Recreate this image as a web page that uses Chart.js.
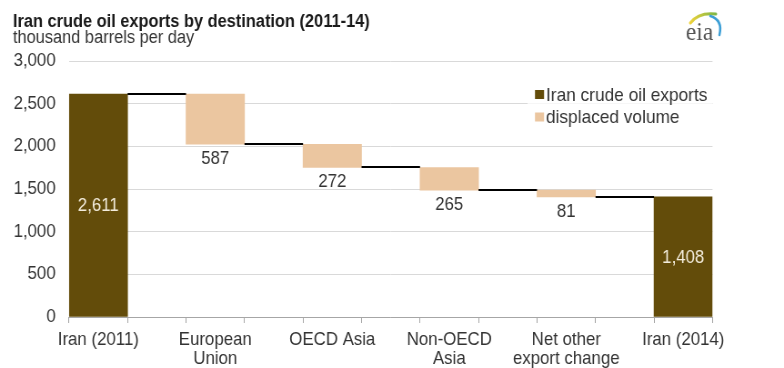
<!DOCTYPE html>
<html><head><meta charset="utf-8">
<script src="https://cdn.jsdelivr.net/npm/chart.js@4.4.1/dist/chart.umd.min.js"></script>
<style>
html,body{margin:0;padding:0;background:#fff;overflow:hidden;}
#wrap{position:absolute;left:0;top:0;width:862px;height:368px;transform:scaleX(0.90951);transform-origin:0 0;}
canvas{display:block;}
</style></head><body>
<div id="wrap"><canvas id="c" width="862" height="368" style="width:862px;height:368px"></canvas></div>
<script>
// ---- data ----
const categories = [['Iran (2011)'], ['European', 'Union'], ['OECD Asia'], ['Non-OECD', 'Asia'], ['Net other', 'export change'], ['Iran (2014)']];
const startValue = 2611;
const endValue = 1408;
const displaced = [587, 272, 265, 81];
const yTicks = [0, 500, 1000, 1500, 2000, 2500, 3000];
const seriesNames = ['Iran crude oil exports', 'displaced volume'];
const titleText = 'Iran crude oil exports by destination (2011-14)';
const subtitleText = 'thousand barrels per day';

// ---- build waterfall tables ----
const labels = [];
categories.forEach((c, i) => { labels.push(c); if (i < categories.length - 1) labels.push(''); });
const iranData = labels.map(() => null);
iranData[0] = startValue;
iranData[labels.length - 1] = endValue;
const dispData = labels.map(() => null);
const levels = [startValue];
let level = startValue;
displaced.forEach((d, j) => {
  const bottom = level - d;
  dispData[2 * (j + 1)] = [bottom, level];
  level = bottom;
  levels.push(level);
});

const FONT = "'Liberation Sans', Arial, sans-serif";
Chart.defaults.font.family = FONT;
const fmt = v => v.toLocaleString('en-US');

const waterfallPlugin = {
  id: 'waterfall',
  afterDatasetsDraw(chart) {
    const ctx = chart.ctx;
    const y = chart.scales.y;
    const m0 = chart.getDatasetMeta(0), m1 = chart.getDatasetMeta(1);
    const barAt = i => (iranData[i] !== null ? m0.data[i] : m1.data[i]);
    ctx.save();
    // connectors
    ctx.strokeStyle = '#000';
    ctx.lineWidth = 2;
    for (let k = 0; k < levels.length; k++) {
      const a = barAt(2 * k), b = barAt(2 * k + 2);
      const py = Math.round(y.getPixelForValue(levels[k])) ;
      ctx.beginPath();
      ctx.moveTo(a.x + a.width / 2, py);
      ctx.lineTo(b.x - b.width / 2, py);
      ctx.stroke();
    }
    // labels
    ctx.font = '18.5px ' + FONT;
    ctx.textAlign = 'center';
    ctx.textBaseline = 'middle';
    iranData.forEach((v, i) => {
      if (v === null) return;
      const el = m0.data[i];
      ctx.fillStyle = '#f3ecdc';
      ctx.fillText(fmt(v), el.x, (el.y + el.base) / 2 + 1);
    });
    displaced.forEach((d, j) => {
      const el = m1.data[2 * (j + 1)];
      ctx.fillStyle = '#333';
      ctx.fillText(fmt(d), el.x, Math.max(el.y, el.base) + 14.5);
    });
    ctx.restore();
  },
  afterDraw(chart) {
    const ctx = chart.ctx;
    ctx.save();
    // legend
    ctx.fillStyle = 'rgba(255,255,255,0.75)';
    ctx.fillRect(580, 83, 203, 44);
    const items = [[seriesNames[0], chart.data.datasets[0].backgroundColor, 94.5], [seriesNames[1], chart.data.datasets[1].backgroundColor, 117]];
    ctx.font = '19px ' + FONT;
    ctx.textBaseline = 'middle';
    ctx.textAlign = 'left';
    items.forEach(([t, c, cy]) => {
      ctx.fillStyle = c;
      ctx.fillRect(588.2, cy - 4.5, 10, 9);
      ctx.fillStyle = '#333';
      ctx.fillText(t, 600.3, cy + 0.8);
    });
    // eia logo
    const g = ctx.createLinearGradient(758, 0, 788, 0);
    g.addColorStop(0, '#f2d33a'); g.addColorStop(1, '#7ab648');
    ctx.strokeStyle = g; ctx.lineWidth = 3; ctx.lineCap = 'round';
    ctx.beginPath(); ctx.moveTo(759, 23); ctx.quadraticCurveTo(768, 12, 787, 14); ctx.stroke();
    ctx.strokeStyle = '#3d9fd6'; ctx.lineWidth = 2.5;
    ctx.beginPath(); ctx.moveTo(781, 16); ctx.quadraticCurveTo(795, 20, 791, 35); ctx.stroke();
    ctx.fillStyle = '#555';
    ctx.font = "26px 'Liberation Serif', 'DejaVu Serif', serif";
    ctx.textBaseline = 'alphabetic';
    ctx.fillText('eia', 754, 39.5);
    ctx.restore();
  }
};

new Chart(document.getElementById('c'), {
  type: 'bar',
  data: {
    labels: labels,
    datasets: [
      { label: seriesNames[0], data: iranData, backgroundColor: '#634c0a', grouped: false, barPercentage: 1, categoryPercentage: 1 },
      { label: seriesNames[1], data: dispData, backgroundColor: '#ebc6a0', grouped: false, barPercentage: 1, categoryPercentage: 1 }
    ]
  },
  options: {
    responsive: false,
    animation: false,
    devicePixelRatio: 1,
    layout: { padding: { left: 14.3, right: 78.6, top: 0, bottom: 0 } },
    plugins: {
      legend: { display: false },
      tooltip: { enabled: false },
      title: { display: true, text: titleText, align: 'start', color: '#1a1a1a',
        font: { size: 18, weight: 'bold', lineHeight: 0.9 }, padding: { top: 13.7, bottom: 0 } },
      subtitle: { display: true, text: subtitleText, align: 'start', color: '#333',
        font: { size: 18, lineHeight: 0.9 }, padding: { top: 0.3, bottom: 14.6 } }
    },
    scales: {
      x: {
        grid: { display: true, drawOnChartArea: false, drawTicks: true, tickLength: 6, color: '#a6a6a6' },
        border: { display: true, color: '#a6a6a6' },
        ticks: { color: '#333', font: { size: 18.5, lineHeight: 1.05 }, padding: 7, autoSkip: false, maxRotation: 0 },
        afterFit(s) { s.height = 51; }
      },
      y: {
        min: 0, max: 3000,
        afterBuildTicks(s) { s.ticks = yTicks.map(v => ({ value: v })); },
        ticks: { color: '#333', font: { size: 18.5 }, padding: 14.7, callback: v => fmt(v) },
        grid: { color: '#d9d9d9', drawTicks: false },
        border: { display: false },
        afterFit(s) { s.width = 61.6; }
      }
    }
  },
  plugins: [waterfallPlugin]
});
</script>
</body></html>
